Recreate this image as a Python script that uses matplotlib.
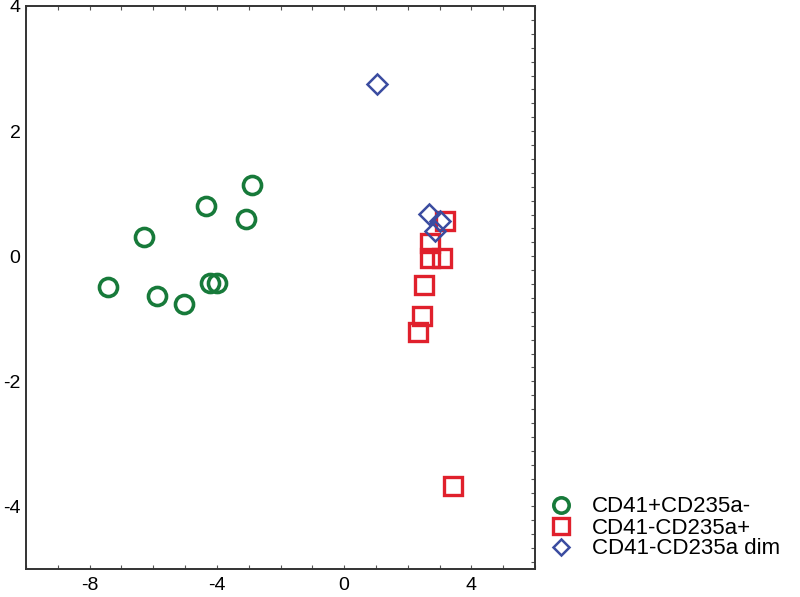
import numpy as np
import matplotlib.pyplot as plt
from matplotlib.ticker import MultipleLocator

plt.rcParams['font.family'] = ['Liberation Sans', 'DejaVu Sans']
plt.rcParams['axes.unicode_minus'] = False

# CD41+CD235a-
green_x = [-7.42, -5.88, -5.03, -6.29, -4.34, -2.89, -3.08, -4.21, -3.99]
green_y = [-0.49, -0.63, -0.76, 0.30, 0.81, 1.14, 0.59, -0.43, -0.43]

# CD41-CD235a+
red_x = [3.18, 2.70, 2.70, 3.08, 2.52, 2.45, 2.33, 3.43]
red_y = [0.57, 0.21, -0.03, -0.03, -0.46, -0.95, -1.21, -3.68]

# CD41-CD235a dim
blue_x = [1.04, 2.67, 3.02, 2.86]
blue_y = [2.75, 0.68, 0.56, 0.41]

labels = ["CD41+CD235a-", "CD41-CD235a+", "CD41-CD235a dim"]
colors = ["#177a3a", "#e0202c", "#3b4ca0"]

fig = plt.figure(figsize=(8, 5.97), dpi=100)
ax = fig.add_axes([26 / 800, 1 - 569 / 597, (535 - 26) / 800, (569 - 6) / 597])

ax.plot(green_x, green_y, 'o', ms=13, mfc='none', mec=colors[0], mew=2.6,
        label=labels[0], linestyle='none')
ax.plot(red_x, red_y, 's', ms=13.5, mfc='none', mec=colors[1], mew=2.4,
        label=labels[1], linestyle='none')
ax.plot(blue_x, blue_y, 'D', ms=10, mfc='none', mec=colors[2], mew=1.8,
        label=labels[2], linestyle='none')

ax.set_xlim(-10, 6)
ax.set_ylim(-5, 4)
ax.set_xticks([-8, -4, 0, 4])
ax.set_yticks([-4, -2, 0, 2, 4])
ax.xaxis.set_minor_locator(MultipleLocator(1))
ax.yaxis.set_minor_locator(MultipleLocator(2 / 9))

for s in ax.spines.values():
    s.set_linewidth(1.4)
    s.set_color('#333333')

ax.tick_params(axis='x', which='both', direction='in', top=True, bottom=True,
               length=3, width=0.8, color='#555555', labelsize=14, pad=6)
ax.tick_params(axis='y', which='both', direction='in', left=False, right=True,
               length=3, width=0.8, color='#555555', labelsize=14, pad=4)

fig.legend(loc='center left', bbox_to_anchor=(550 / 800, 1 - 528 / 597),
           frameon=False, fontsize=16, borderpad=0, borderaxespad=0,
           handlelength=1.0, handletextpad=0.9, labelspacing=0.0,
           markerscale=0.85)

fig.savefig("out.png", dpi=100)
